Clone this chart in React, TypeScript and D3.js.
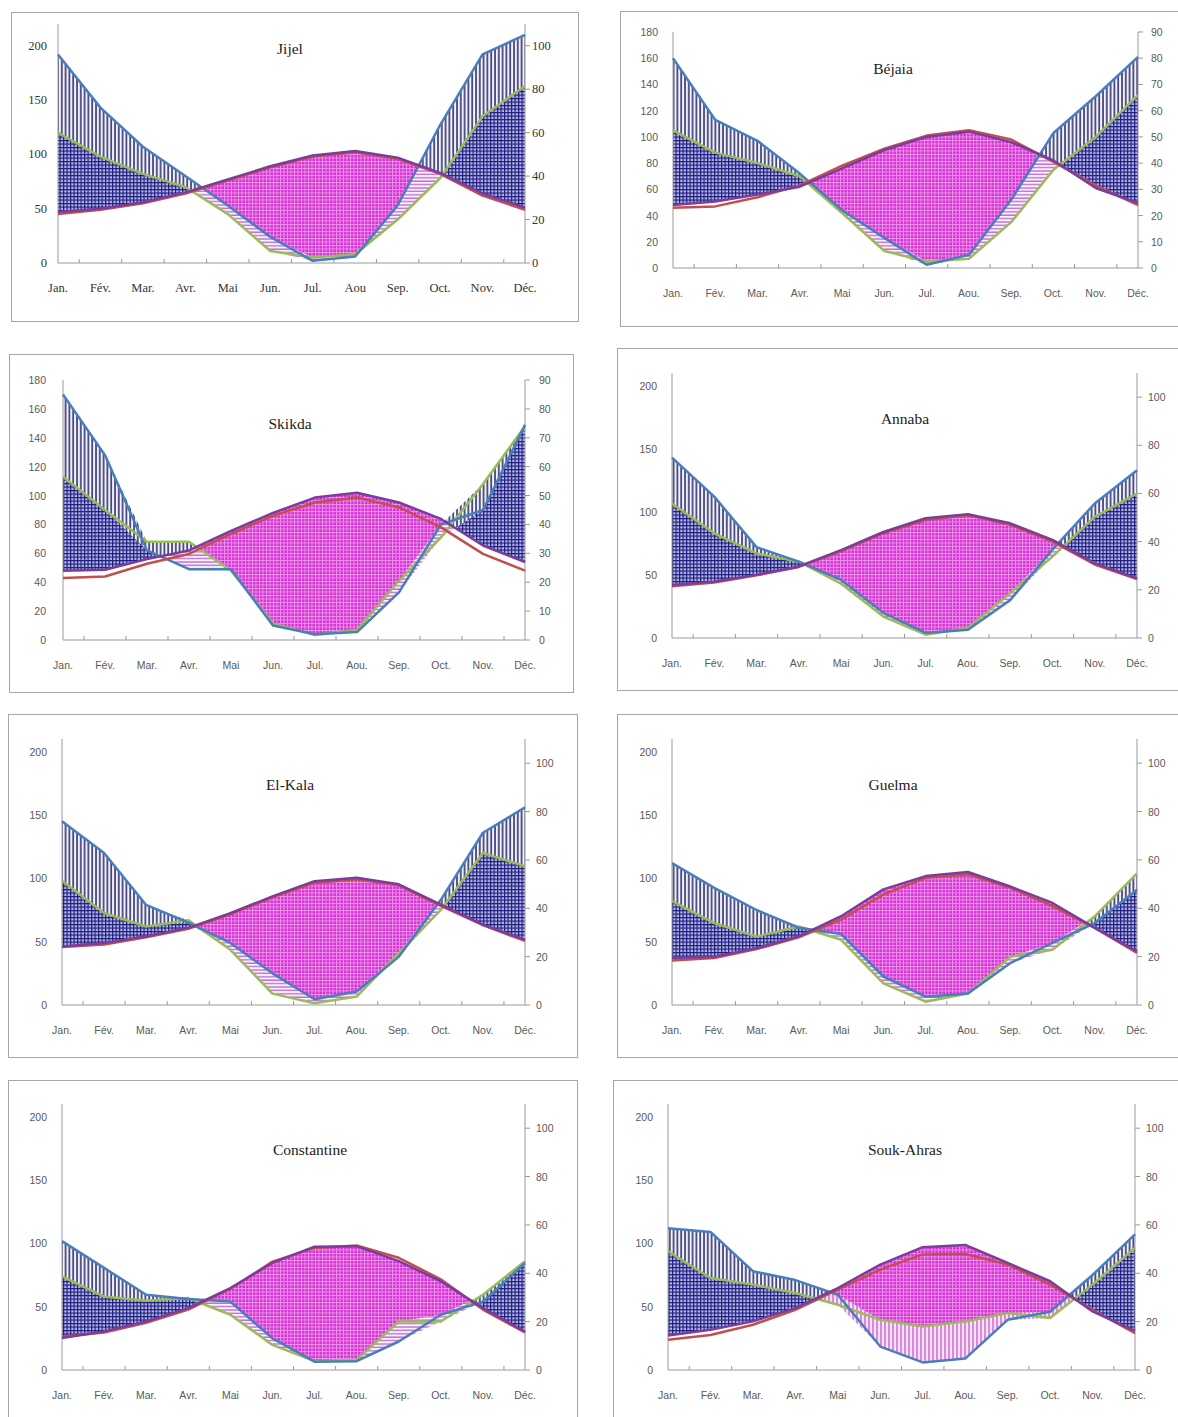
import React from "react";
import * as d3 from "d3";

// month labels (Jijel chart writes "Aou" without the dot)
const monthsJijel = ["Jan.", "Fév.", "Mar.", "Avr.", "Mai", "Jun.", "Jul.", "Aou", "Sep.", "Oct.", "Nov.", "Déc."];
const months = ["Jan.", "Fév.", "Mar.", "Avr.", "Mai", "Jun.", "Jul.", "Aou.", "Sep.", "Oct.", "Nov.", "Déc."];

// P1 / P2 : precipitation (mm, left axis) ; T1 / T2 : temperature (right axis)
const jijelP1 = [192, 143, 107, 80, 53, 24, 2, 6, 53, 127, 192, 210];
const jijelP2 = [120, 98, 82, 70, 45, 11, 5, 8, 40, 78, 135, 163];
const jijelT1 = [23.5, 25, 28, 32.5, 38.5, 44.5, 49.5, 51.5, 48.5, 41.5, 32, 25.5];
const jijelT2 = [22.5, 24.5, 27.5, 32, 38, 44, 49, 51, 48, 41, 31, 24.5];

const bejaiaP1 = [160, 113, 97, 72, 44, 23, 2.5, 10, 52, 103, 131, 161];
const bejaiaP2 = [105, 88, 80, 70, 42, 13, 5, 7, 35, 75, 100, 132];
const bejaiaT1 = [24, 25.4, 28, 31, 38, 45, 50, 52, 48, 41, 30.5, 24.8];
const bejaiaT2 = [23, 23.5, 27, 31.5, 39, 45.5, 50.5, 52.5, 49, 40.5, 31.5, 24];

const skikdaP1 = [170, 128, 62, 49, 49, 10, 4, 5.5, 33, 80, 90, 149];
const skikdaP2 = [113, 90, 68, 68, 48, 11.5, 3.4, 7, 41, 71, 108, 148];
const skikdaT1 = [24, 24.3, 28, 31, 37.8, 44, 49.3, 51, 47.6, 41.9, 32.7, 27];
const skikdaT2 = [21.5, 22, 26.4, 29.8, 36.7, 43, 47.6, 49.3, 45.9, 39, 29.8, 24];

const annabaP1 = [143, 112, 72, 60.5, 46, 20, 4, 6.6, 30, 70, 106.6, 133];
const annabaP2 = [106.6, 83, 67, 60.5, 43, 17, 2.6, 8, 35.5, 64.5, 96, 114.5];
const annabaT1 = [22, 23.4, 26.2, 29.7, 36.5, 44, 49.7, 51.4, 47.6, 40.7, 31, 24.8];
const annabaT2 = [21.5, 23, 26, 29.5, 36, 43.5, 49, 51, 47, 40, 30.5, 24.5];

const elkalaP1 = [145, 120, 79, 65, 49, 25, 4.5, 10.6, 38, 83, 136, 156];
const elkalaP2 = [98, 72.6, 62, 67, 43.6, 9, 1.3, 6.6, 41, 75, 120, 109.6];
const elkalaT1 = [24.2, 25.6, 28.4, 31.9, 38, 44.9, 51.2, 52.6, 49.9, 41.5, 33.2, 27];
const elkalaT2 = [24, 25, 28, 31.5, 37.5, 44.5, 50.5, 52, 49.5, 41, 33, 26.5];

const guelmaP1 = [112, 92.5, 75, 61, 56, 22.5, 6.6, 9, 33, 49, 64.7, 91];
const guelmaP2 = [82, 64.7, 54, 62, 51.5, 17, 2.6, 9, 38, 43.6, 70, 104];
const guelmaT1 = [19.4, 20, 23.5, 28.4, 36.7, 47.8, 53.3, 55, 49, 42.2, 31.9, 22.2];
const guelmaT2 = [18.4, 19.4, 23.1, 28, 35.3, 45.7, 52.6, 54, 48.5, 40.9, 31.9, 21.5];

const constantineP1 = [101.7, 80.6, 59.4, 56, 54, 25, 6.6, 7, 22.5, 43.6, 54, 84.5];
const constantineP2 = [74, 58, 54.7, 56.8, 43.6, 19.8, 7, 8, 38.3, 38.3, 59.4, 85.9];
const constantineT1 = [13.2, 15.9, 20.1, 25.6, 33.9, 44.3, 51, 51.2, 45, 36.7, 25.6, 15.9];
const constantineT2 = [13.9, 15.5, 19.5, 25, 33.5, 44.8, 50.5, 51.5, 46.4, 37.5, 25, 15.5];

const soukP1 = [112, 109, 78, 71, 59.4, 18.5, 6, 9, 39.6, 46, 75, 107];
const soukP2 = [93.8, 72.6, 67.4, 60.8, 51.5, 39.6, 34.3, 38.3, 44.9, 41, 67.4, 96.4];
const soukT1 = [14.3, 16.6, 20.1, 25.6, 33.9, 43.6, 50.8, 51.7, 44.3, 36.7, 24.2, 16.2];
const soukT2 = [12.5, 14.5, 18.7, 24.9, 33.2, 41.5, 47.8, 48, 43.6, 35.3, 24.9, 15.2];

const ticks180 = d3.range(0, 181, 20);
const ticks90 = d3.range(0, 91, 10);
const ticks200 = [0, 50, 100, 150, 200];
const ticks100 = [0, 20, 40, 60, 80, 100];

const BLUE = "#4a7ebb";
const GREEN = "#9bbb59";
const PURPLE = "#7b3c9e";
const RED = "#c0504d";

const stations = [
  { id: "jijel", name: "Jijel", labels: monthsJijel, p1: jijelP1, p2: jijelP2, t1: jijelT1, t2: jijelT2,
    box: [11, 12, 567, 309], x0: 58, x1: 525, yTop: 24, yBot: 263, leftMax: 220, rightMax: 110,
    leftTicks: ticks200, rightTicks: ticks100, title: [290, 48], serif: true, dry: "h", lGap: 11, rGap: 7 },
  { id: "bejaia", name: "Béjaia", labels: months, p1: bejaiaP1, p2: bejaiaP2, t1: bejaiaT1, t2: bejaiaT2,
    box: [620, 11, 570, 315], x0: 673, x1: 1138, yTop: 32, yBot: 268, leftMax: 180, rightMax: 90,
    leftTicks: ticks180, rightTicks: ticks90, title: [893, 68], serif: false, dry: "h", lGap: 15, rGap: 13 },
  { id: "skikda", name: "Skikda", labels: months, p1: skikdaP1, p2: skikdaP2, t1: skikdaT1, t2: skikdaT2,
    box: [9, 354, 564, 338], x0: 63, x1: 525, yTop: 380, yBot: 640, leftMax: 180, rightMax: 90,
    leftTicks: ticks180, rightTicks: ticks90, title: [290, 423], serif: false, dry: "h", lGap: 17, rGap: 14 },
  { id: "annaba", name: "Annaba", labels: months, p1: annabaP1, p2: annabaP2, t1: annabaT1, t2: annabaT2,
    box: [617, 348, 570, 342], x0: 672, x1: 1137, yTop: 373, yBot: 638, leftMax: 210, rightMax: 110,
    leftTicks: ticks200, rightTicks: ticks100, title: [905, 418], serif: false, dry: "h", lGap: 15, rGap: 11 },
  { id: "elkala", name: "El-Kala", labels: months, p1: elkalaP1, p2: elkalaP2, t1: elkalaT1, t2: elkalaT2,
    box: [8, 714, 569, 343], x0: 62, x1: 525, yTop: 739, yBot: 1005, leftMax: 210, rightMax: 110,
    leftTicks: ticks200, rightTicks: ticks100, title: [290, 784], serif: false, dry: "h", lGap: 15, rGap: 11 },
  { id: "guelma", name: "Guelma", labels: months, p1: guelmaP1, p2: guelmaP2, t1: guelmaT1, t2: guelmaT2,
    box: [617, 714, 570, 343], x0: 672, x1: 1137, yTop: 739, yBot: 1005, leftMax: 210, rightMax: 110,
    leftTicks: ticks200, rightTicks: ticks100, title: [893, 784], serif: false, dry: "h", lGap: 15, rGap: 11 },
  { id: "constantine", name: "Constantine", labels: months, p1: constantineP1, p2: constantineP2, t1: constantineT1, t2: constantineT2,
    box: [8, 1080, 569, 345], x0: 62, x1: 525, yTop: 1104, yBot: 1370, leftMax: 210, rightMax: 110,
    leftTicks: ticks200, rightTicks: ticks100, title: [310, 1149], serif: false, dry: "h", lGap: 15, rGap: 11 },
  { id: "souk", name: "Souk-Ahras", labels: months, p1: soukP1, p2: soukP2, t1: soukT1, t2: soukT2,
    box: [613, 1080, 575, 345], x0: 668, x1: 1135, yTop: 1104, yBot: 1370, leftMax: 210, rightMax: 110,
    leftTicks: ticks200, rightTicks: ticks100, title: [905, 1149], serif: false, dry: "v", lGap: 15, rGap: 11 },
];

function Patterns() {
  return (
    <defs>
      <pattern id="blueHatch" width="3.8" height="4" patternUnits="userSpaceOnUse">
        <rect width="3.8" height="4" fill="#f2f2fa" />
        <line x1="1" y1="0" x2="1" y2="4" stroke="#17175f" strokeWidth="1.4" />
      </pattern>
      <pattern id="blueGrid" width="3.5" height="3.5" patternUnits="userSpaceOnUse">
        <rect width="3.5" height="3.5" fill="#b9b9e6" />
        <line x1="0.6" y1="0" x2="0.6" y2="3.5" stroke="#1d1d80" strokeWidth="1.2" />
        <line x1="0" y1="0.6" x2="3.5" y2="0.6" stroke="#1d1d80" strokeWidth="1.2" />
      </pattern>
      <pattern id="pinkGrid" width="3.5" height="3.5" patternUnits="userSpaceOnUse">
        <rect width="3.5" height="3.5" fill="#d532d3" />
        <line x1="0.5" y1="0" x2="0.5" y2="3.5" stroke="#ee98ec" strokeWidth="0.9" />
        <line x1="0" y1="0.5" x2="3.5" y2="0.5" stroke="#ee98ec" strokeWidth="0.9" />
      </pattern>
      <pattern id="pinkH" width="4" height="3.4" patternUnits="userSpaceOnUse">
        <rect width="4" height="3.4" fill="#fdf2fd" />
        <line x1="0" y1="1" x2="4" y2="1" stroke="#bd6fd3" strokeWidth="1.4" />
      </pattern>
      <pattern id="pinkV" width="4" height="4" patternUnits="userSpaceOnUse">
        <rect width="4" height="4" fill="#f9e2f9" />
        <line x1="1" y1="0" x2="1" y2="4" stroke="#cc62cf" strokeWidth="1.4" />
      </pattern>
    </defs>
  );
}

function Panel({ s }: { s: any }) {
  const idx = d3.range(12);
  const x = d3.scalePoint<number>().domain(idx).range([s.x0, s.x1]);
  const yL = d3.scaleLinear().domain([0, s.leftMax]).range([s.yBot, s.yTop]);
  const yR = d3.scaleLinear().domain([0, s.rightMax]).range([s.yBot, s.yTop]);

  const pHi = idx.map(i => Math.max(s.p1[i], s.p2[i]));
  const pLo = idx.map(i => Math.min(s.p1[i], s.p2[i]));

  // band between a precipitation curve and the temperature curve
  const band = (p: number[]) =>
    d3.area<number>().x(i => x(i)!).y0(i => yR(s.t1[i])).y1(i => yL(p[i]))(idx) as string;
  const above = d3.area<number>().x(i => x(i)!).y0(i => yR(s.t1[i])).y1(s.yTop)(idx) as string;
  const below = d3.area<number>().x(i => x(i)!).y0(i => yR(s.t1[i])).y1(s.yBot)(idx) as string;
  const lineL = (arr: number[]) => d3.line<number>().x(i => x(i)!).y(i => yL(arr[i]))(idx) as string;
  const lineR = (arr: number[]) => d3.line<number>().x(i => x(i)!).y(i => yR(arr[i]))(idx) as string;

  const font = s.serif ? "'Liberation Serif', 'DejaVu Serif', serif" : "'Liberation Sans', Arial, sans-serif";
  const fSize = s.serif ? 12.5 : 10.5;
  const fColor = s.serif ? "#333" : "#595959";
  const [bx, by, bw, bh] = s.box;
  const step = x.step();

  return (
    <g>
      <rect x={bx + 0.5} y={by + 0.5} width={bw} height={bh} fill="#fff" stroke="#a6a6a6" strokeWidth={1} />
      <clipPath id={`above-${s.id}`}><path d={above} /></clipPath>
      <clipPath id={`below-${s.id}`}><path d={below} /></clipPath>

      <path d={band(pHi)} fill="url(#blueHatch)" clipPath={`url(#above-${s.id})`} />
      <path d={band(pLo)} fill="url(#blueGrid)" clipPath={`url(#above-${s.id})`} />
      <path d={band(pLo)} fill={s.dry === "v" ? "url(#pinkV)" : "url(#pinkH)"} clipPath={`url(#below-${s.id})`} />
      <path d={band(pHi)} fill="url(#pinkGrid)" clipPath={`url(#below-${s.id})`} />

      {/* axes */}
      <line x1={s.x0} x2={s.x0} y1={s.yTop} y2={s.yBot} stroke="#9a9a9a" />
      <line x1={s.x1} x2={s.x1} y1={s.yTop} y2={s.yBot} stroke="#9a9a9a" />
      <line x1={s.x0} x2={s.x1} y1={s.yBot} y2={s.yBot} stroke="#9a9a9a" />
      {idx.slice(0, 11).map(i => (
        <line key={i} x1={x(i)! + step / 2} x2={x(i)! + step / 2} y1={s.yBot} y2={s.yBot - 4} stroke="#9a9a9a" />
      ))}
      {s.rightTicks.map((t: number) => (
        <line key={t} x1={s.x1} x2={s.x1 + 5} y1={yR(t)} y2={yR(t)} stroke="#9a9a9a" />
      ))}

      {/* series */}
      <path d={lineL(s.p2)} fill="none" stroke={GREEN} strokeWidth={2.5} strokeLinejoin="round" />
      <path d={lineL(s.p1)} fill="none" stroke={BLUE} strokeWidth={2.5} strokeLinejoin="round" />
      <path d={lineR(s.t2)} fill="none" stroke={RED} strokeWidth={2.5} strokeLinejoin="round" />
      <path d={lineR(s.t1)} fill="none" stroke={PURPLE} strokeWidth={2.5} strokeLinejoin="round" />

      {/* labels */}
      <g fontFamily={font} fontSize={fSize} fill={fColor}>
        {s.leftTicks.map((t: number) => (
          <text key={t} x={s.x0 - s.lGap} y={yL(t)} textAnchor="end" dominantBaseline="central">{t}</text>
        ))}
        {s.rightTicks.map((t: number) => (
          <text key={t} x={s.x1 + s.rGap} y={yR(t)} textAnchor="start" dominantBaseline="central">{t}</text>
        ))}
        {s.labels.map((m: string, i: number) => (
          <text key={m} x={x(i)} y={s.yBot + 25} textAnchor="middle" dominantBaseline="central">{m}</text>
        ))}
      </g>
      <text x={s.title[0]} y={s.title[1]} textAnchor="middle" dominantBaseline="central"
        fontFamily="'Liberation Serif', serif" fontSize={15.5} fill="#222">{s.name}</text>
    </g>
  );
}

export default function App() {
  return (
    <svg width={1178} height={1417} viewBox="0 0 1178 1417"
      style={{ position: "absolute", left: 0, top: 0, background: "#fff" }}>
      <Patterns />
      {stations.map(s => <Panel key={s.id} s={s} />)}
    </svg>
  );
}
